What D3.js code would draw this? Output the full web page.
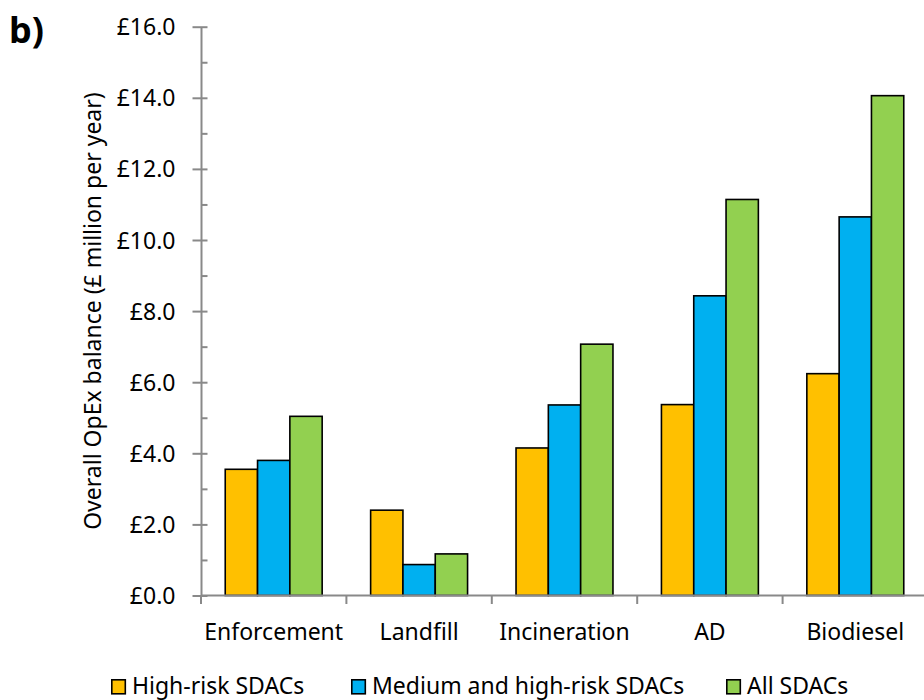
<!DOCTYPE html>
<html>
<head>
<meta charset="utf-8">
<script src="https://cdn.jsdelivr.net/npm/d3@7/dist/d3.min.js"></script>
<style>
  html, body { margin: 0; padding: 0; background: #fff; }
  svg { display: block; font-family: "Noto Sans", sans-serif; }
</style>
</head>
<body>
<svg id="chart" width="924" height="700"></svg>
<script>
// Categories and series
const categories = ["Enforcement", "Landfill", "Incineration", "AD", "Biodiesel"];
const seriesNames = ["High-risk SDACs", "Medium and high-risk SDACs", "All SDACs"];
const highRisk   = [3.55, 2.40, 4.15, 5.37, 6.24];
const mediumHigh = [3.80, 0.87, 5.36, 8.43, 10.65];
const allSdacs   = [5.04, 1.17, 7.07, 11.14, 14.06];
const seriesColors = ["#FFC000", "#00B0F0", "#92D050"];
const yTicks = [0, 2, 4, 6, 8, 10, 12, 14, 16];
const yMinorTicks = d3.range(0, 17, 1);
const yTitle = "Overall OpEx balance (£ million per year)";
const panelLabel = "b)";

const seriesValues = [highRisk, mediumHigh, allSdacs];

const svg = d3.select("#chart");
const axisColor = "#898989";
const fontSize = 23;

const x = d3.scaleBand().domain(categories).range([201, 928]).paddingInner(0).paddingOuter(0);
const xInner = d3.scaleBand().domain(seriesNames).range([0, x.bandwidth()]).paddingInner(0).paddingOuter(0.75);
const y = d3.scaleLinear().domain([0, 16]).range([595.5, 26.7]);

// Bars
const groups = svg.append("g").selectAll("g")
  .data(categories)
  .join("g")
  .attr("transform", d => `translate(${x(d)},0)`);

groups.selectAll("rect")
  .data((c, i) => seriesNames.map((s, j) => ({ s, j, v: seriesValues[j][i] })))
  .join("rect")
  .attr("x", d => xInner(d.s))
  .attr("width", xInner.bandwidth())
  .attr("y", d => y(d.v))
  .attr("height", d => y(0) - y(d.v))
  .attr("fill", d => seriesColors[d.j])
  .attr("stroke", "#000")
  .attr("stroke-width", 1.6);

// Y axis: minor ticks on the inside, major ticks crossing the line
const yMinor = svg.append("g")
  .attr("transform", `translate(${x.range()[0]},0)`)
  .call(d3.axisRight(y).tickValues(yMinorTicks).tickSize(6.5).tickFormat(""));
yMinor.select(".domain").remove();

const yMajor = svg.append("g")
  .attr("transform", `translate(${x.range()[0]},0)`)
  .call(d3.axisLeft(y).tickValues(yTicks).tickSizeInner(8.5).tickSizeOuter(0).tickPadding(17)
    .tickFormat(d => "£" + d3.format(".1f")(d)));

[yMinor, yMajor].forEach(g => {
  g.selectAll("line").attr("stroke", axisColor).attr("stroke-width", 2);
  g.select(".domain").attr("stroke", axisColor).attr("stroke-width", 2);
});
yMajor.selectAll("text")
  .attr("font-family", "Noto Sans")
  .attr("font-size", fontSize)
  .attr("fill", "#000")
  .attr("dy", "0.35em");

// X axis with ticks at category boundaries
const xAxis = svg.append("g").attr("transform", `translate(0,${y(0)})`);
xAxis.append("line")
  .attr("x1", x.range()[0]).attr("x2", x.range()[1])
  .attr("stroke", axisColor).attr("stroke-width", 2);
const boundaries = categories.map(c => x(c)).concat([x.range()[1]]);
xAxis.selectAll(".bt")
  .data(boundaries)
  .join("line")
  .attr("class", "bt")
  .attr("x1", d => d).attr("x2", d => d)
  .attr("y1", 0).attr("y2", 8.5)
  .attr("stroke", axisColor).attr("stroke-width", 2);

svg.append("g").selectAll("text")
  .data(categories)
  .join("text")
  .attr("x", d => x(d) + x.bandwidth() / 2)
  .attr("y", 639.5)
  .attr("text-anchor", "middle")
  .attr("font-size", fontSize)
  .attr("fill", "#000")
  .text(d => d);

// Y axis title
svg.append("text")
  .attr("transform", `translate(101,${(y(0) + y(16)) / 2}) rotate(-90)`)
  .attr("text-anchor", "middle")
  .attr("font-size", fontSize)
  .attr("fill", "#000")
  .text(yTitle);

// Panel label
svg.append("text")
  .attr("x", 9)
  .attr("y", 43)
  .attr("font-size", 36)
  .attr("font-weight", "bold")
  .attr("fill", "#000")
  .text(panelLabel);

// Legend
const legendX = [111, 351, 726];
const legend = svg.append("g").selectAll("g")
  .data(seriesNames)
  .join("g")
  .attr("transform", (d, i) => `translate(${legendX[i]},0)`);
legend.append("rect")
  .attr("x", 0.8).attr("y", 679.8)
  .attr("width", 13.5).attr("height", 14)
  .attr("fill", (d, i) => seriesColors[i])
  .attr("stroke", "#000").attr("stroke-width", 1.6);
legend.append("text")
  .attr("x", 21)
  .attr("y", 693.5)
  .attr("font-size", fontSize)
  .attr("fill", "#000")
  .text(d => d);
</script>
</body>
</html>
